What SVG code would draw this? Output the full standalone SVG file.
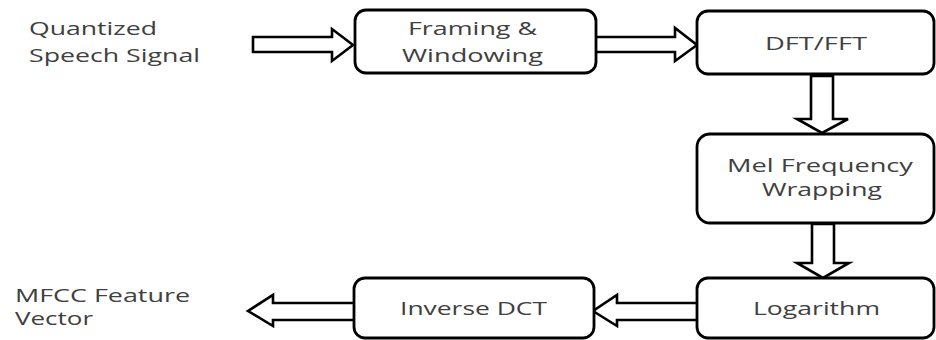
<svg xmlns="http://www.w3.org/2000/svg" width="936" height="340" viewBox="0 0 936 340">
  <style>
    .box { fill: #ffffff; stroke: #000000; stroke-width: 2.8; }
    .arrow { fill: #ffffff; stroke: #000000; stroke-width: 2.6; stroke-linejoin: miter; }
    text { font-family: "Open Sans", "Liberation Sans", sans-serif; font-size: 18px; fill: #404040; }
  </style>
  <rect width="936" height="340" fill="#ffffff"/>

  <!-- block arrows between stages -->
  <g id="connectors">
    <polygon class="arrow" points="253,37 332,37 332,29 353,45 332,61 332,52 253,52"/>
    <polygon class="arrow" points="594,37 675,37 675,28 697,45 675,61 675,52 594,52"/>
    <polygon class="arrow" points="811,76 833,76 833,119 848,119 822,133 797,119 811,119"/>
    <polygon class="arrow" points="812,224 834,224 834,263 849,263 823,278 797,263 812,263"/>
    <polygon class="arrow" points="699,303 617,303 617,295 593,311 617,326 617,320 699,320"/>
    <polygon class="arrow" points="355,303 273,303 273,295 248,311 273,326 273,320 355,320"/>
  </g>

  <!-- input / output labels -->
  <g id="input">
    <text x="29" y="35" textLength="128" lengthAdjust="spacingAndGlyphs">Quantized</text>
    <text x="29" y="62" textLength="171" lengthAdjust="spacingAndGlyphs">Speech Signal</text>
  </g>
  <g id="output">
    <text x="15" y="302" textLength="175" lengthAdjust="spacingAndGlyphs">MFCC Feature</text>
    <text x="15" y="325" textLength="78" lengthAdjust="spacingAndGlyphs">Vector</text>
  </g>

  <!-- processing stages -->
  <g id="framing">
    <rect class="box" x="355" y="10" width="241" height="63" rx="11"/>
    <text x="408" y="35" textLength="129" lengthAdjust="spacingAndGlyphs">Framing &amp;</text>
    <text x="402" y="62" textLength="141" lengthAdjust="spacingAndGlyphs">Windowing</text>
  </g>
  <g id="dft">
    <rect class="box" x="697" y="11" width="237" height="63" rx="11"/>
    <text x="765" y="50" textLength="102" lengthAdjust="spacingAndGlyphs">DFT/FFT</text>
  </g>
  <g id="mel">
    <rect class="box" x="697" y="134" width="237" height="89" rx="13"/>
    <text x="727" y="172" textLength="186" lengthAdjust="spacingAndGlyphs">Mel Frequency</text>
    <text x="762" y="196" textLength="120" lengthAdjust="spacingAndGlyphs">Wrapping</text>
  </g>
  <g id="log">
    <rect class="box" x="697" y="278" width="237" height="60" rx="11"/>
    <text x="753" y="315" textLength="127" lengthAdjust="spacingAndGlyphs">Logarithm</text>
  </g>
  <g id="idct">
    <rect class="box" x="354" y="278" width="240" height="60" rx="11"/>
    <text x="400" y="315" textLength="147" lengthAdjust="spacingAndGlyphs">Inverse DCT</text>
  </g>
</svg>
